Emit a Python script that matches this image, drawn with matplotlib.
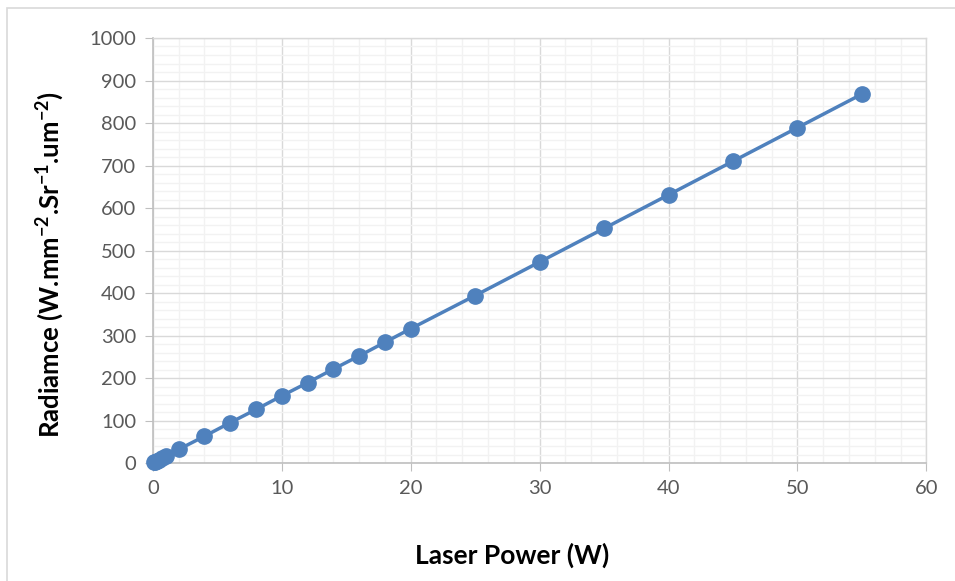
import numpy as np
import matplotlib.pyplot as plt
from matplotlib.patches import Rectangle
from matplotlib.ticker import MultipleLocator

# laser power (W) and radiance
power = [0.1, 0.2, 0.3, 0.5, 0.7, 1.0, 2, 4, 6, 8, 10, 12, 14, 16, 18, 20,
         25, 30, 35, 40, 45, 50, 55]
radiance = [1.6, 3.2, 4.7, 7.9, 11, 16, 32, 63, 95, 126, 158, 189, 221, 252, 284, 316,
            394, 473, 552, 631, 710, 789, 868]

plt.rcParams['font.family'] = ['Lato', 'DejaVu Sans']
plt.rcParams['mathtext.fontset'] = 'custom'
plt.rcParams['mathtext.rm'] = 'Lato'
plt.rcParams['mathtext.bf'] = 'Lato:bold'
plt.rcParams['mathtext.default'] = 'bf'

fig = plt.figure(figsize=(9.55, 5.81), dpi=100)
ax = fig.add_axes([0.160, 0.203, 0.810, 0.7316])

# outer chart frame (only left/top visible in the crop)
fig.patches.append(Rectangle((7 / 955, -0.1), 1.2, 1 - 8 / 581 + 0.1, transform=fig.transFigure,
                             fill=False, edgecolor='#d9d9d9', linewidth=1.2))

ax.plot(power, radiance, color='#4f81bd', linewidth=2.5, marker='o', markersize=11,
        zorder=3, clip_on=False)

ax.set_xlim(0, 60)
ax.set_ylim(0, 1000)
ax.xaxis.set_major_locator(MultipleLocator(10))
ax.xaxis.set_minor_locator(MultipleLocator(2))
ax.yaxis.set_major_locator(MultipleLocator(100))
ax.yaxis.set_minor_locator(MultipleLocator(20))

ax.grid(which='major', color='#d9d9d9', linewidth=1.0)
ax.grid(which='minor', color='#f2f2f2', linewidth=1.0)
ax.set_axisbelow(True)

for side in ['left', 'bottom']:
    ax.spines[side].set_color('#bfbfbf')
    ax.spines[side].set_linewidth(1.2)
for side in ['top', 'right']:
    ax.spines[side].set_color('#d9d9d9')
    ax.spines[side].set_linewidth(1.0)

ax.tick_params(which='major', direction='out', length=6, color='#bfbfbf',
               labelsize=14.5, labelcolor='#595959', pad=6)
ax.tick_params(which='minor', length=0)

ax.set_xlabel('Laser Power (W)', fontsize=19, fontweight='bold')
ax.xaxis.set_label_coords(0.464, -0.188)
ax.set_ylabel('Radiamce (W.mm$^{-2}$.Sr$^{-1}$.um$^{-2}$)', fontsize=18.5,
              fontweight='bold')
ax.yaxis.set_label_coords(-0.112, 0.468)

fig.savefig('out.png', dpi=100)
